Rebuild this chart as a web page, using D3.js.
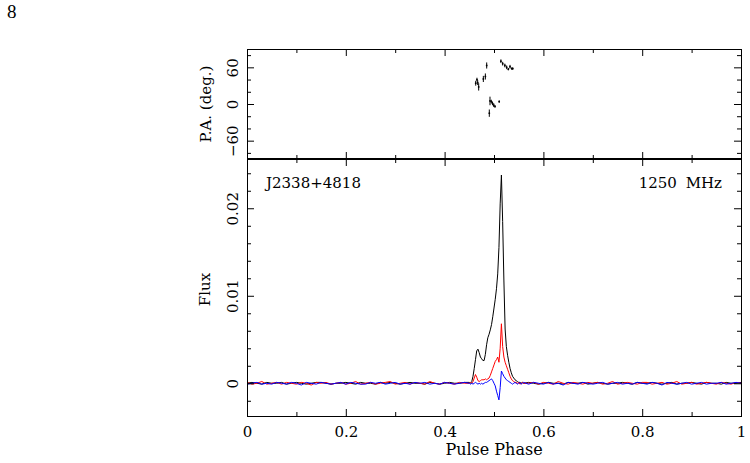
<!DOCTYPE html>
<html>
<head>
<meta charset="utf-8">
<script src="https://cdnjs.cloudflare.com/ajax/libs/d3/7.8.5/d3.min.js"></script>
<style>
body { margin: 0; background: #fff; }
svg { display: block; }
text { font-family: "DejaVu Serif", serif; fill: #000; }
</style>
</head>
<body>
<svg></svg>
<script>
// pulse phase of each profile bin (coarse off-pulse, finer across the pulse)
var phase = [
    0, 0.01, 0.02, 0.03, 0.04, 0.05, 0.06, 0.07, 0.08, 0.09,
    0.10, 0.11, 0.12, 0.13, 0.14, 0.15, 0.16, 0.17, 0.18, 0.19,
    0.20, 0.21, 0.22, 0.23, 0.24, 0.25, 0.26, 0.27, 0.28, 0.29,
    0.30, 0.31, 0.32, 0.33, 0.34, 0.35, 0.36, 0.37, 0.38, 0.39,
    0.40, 0.41, 0.42, 0.43, 0.44,
    0.45, 0.4525, 0.455, 0.4575, 0.46, 0.4625, 0.465, 0.4675, 0.47, 0.4725,
    0.475, 0.4775, 0.48, 0.4825, 0.485, 0.4875, 0.49, 0.4925, 0.495, 0.4975,
    0.5, 0.5025, 0.505, 0.5075, 0.51, 0.5125, 0.515, 0.5175, 0.52, 0.5225,
    0.525, 0.5275, 0.53, 0.5325, 0.535, 0.5375, 0.54, 0.5425, 0.545, 0.5475,
    0.55, 0.5525, 0.555, 0.5575, 0.56,
    0.57, 0.58, 0.59,
    0.60, 0.61, 0.62, 0.63, 0.64, 0.65, 0.66, 0.67, 0.68, 0.69,
    0.70, 0.71, 0.72, 0.73, 0.74, 0.75, 0.76, 0.77, 0.78, 0.79,
    0.80, 0.81, 0.82, 0.83, 0.84, 0.85, 0.86, 0.87, 0.88, 0.89,
    0.90, 0.91, 0.92, 0.93, 0.94, 0.95, 0.96, 0.97, 0.98, 0.99,
    1.00
];

// flux values in units of 1e-4
var fluxUnit = 1e-4;

// total intensity (black)
var fluxI = [
    0, 1, 0, -1, 1, 0, 0, 1, -1, 0,
    1, 0, -1, 0, 1, 1, 0, -1, 0, 0,
    1, 0, -1, 1, 0, 0, -1, 1, 0, 1,
    0, -1, 0, 1, 0, 0, -1, 1, 0, -1,
    0, 1, 0, 0, 1,
    1, 0, 2, 8, 17, 27, 37, 39, 35, 30,
    28, 26, 26, 33, 44, 52, 56, 61, 67, 76,
    86, 96, 108, 125, 155, 205, 238, 185, 118, 62,
    42, 32, 24, 17, 12, 8, 6, 4, 3, 2,
    1, 1, 0, 1, 0,
    1, 0, -1,
    0, 1, 0, 0, -1, 1, 0, 0, 1, -1,
    0, 1, 0, -1, 0, 0, 1, 0, -1, 1,
    0, 0, 1, 0, -1, 0, 1, -1, 0, 0,
    1, 0, -1, 1, 0, 0, -1, 1, 0, 0,
    1
];

// linear polarization (red)
var fluxL = [
    1, -1, 0, 2, -1, 0, 1, -1, 1, 0,
    -1, 1, 0, -2, 1, 0, 1, -1, 0, 1,
    -1, 0, 2, -1, 0, 1, -1, 0, 1, 2,
    -1, 0, 1, -1, 1, 0, -1, 2, 0, -1,
    1, 0, -1, 1, 0,
    0, 1, 0, 2, 6, 10, 7, 3, 2, 3,
    4, 4, 4, 5, 4, 5, 6, 9, 13, 17,
    21, 25, 27, 30, 24, 40, 68, 42, 30, 24,
    20, 16, 12, 8, 5, 3, 2, 1, 1, 0,
    1, -1, 0, 1, 0,
    0, 1, -1,
    1, 0, -1, 2, 0, -1, 1, 0, -1, 1,
    0, 1, -1, 0, 2, -1, 0, 1, 0, -1,
    1, 1, -1, 0, 1, -1, 0, 2, -1, 0,
    1, -1, 0, 1, 0, -1, 1, 0, -1, 1,
    0
];

// circular polarization (blue)
var fluxV = [
    -1, 0, 1, -1, 0, -1, 1, 0, -1, 1,
    0, -2, 1, 0, -1, 1, 0, -1, 0, 1,
    -1, 1, 0, -1, -1, 1, 0, 1, -1, 0,
    1, -1, 0, -1, 1, 0, 1, -1, 0, -1,
    1, 0, -1, 0, 1,
    0, -1, 0, -1, 0, 1, 0, -1, 0, -1,
    0, -1, 0, 1, 1, 2, 3, 4, 5, 3,
    0, -3, -9, -14, -19, -5, 14, 11, 8, 6,
    4, 3, 2, 1, 0, -1, 0, 1, 0, -1,
    0, 1, -1, 0, 1,
    -1, 1, 0,
    -1, 1, -1, 0, -2, 1, 0, -1, 1, 0,
    -1, 0, 1, -1, 0, 1, -1, 0, -1, 1,
    0, -1, 1, 0, -2, 1, 0, -1, 0, 1,
    -1, 0, 1, -1, 0, 0, 1, -1, 0, 1,
    0
];

// position angle points with errors
var paPhase = [0.463, 0.4655, 0.467, 0.469, 0.4784, 0.4825, 0.4852, 0.4905,
    0.4919, 0.4945, 0.497, 0.4995, 0.502, 0.5105,
    0.514, 0.5176, 0.522, 0.5257, 0.529, 0.5324, 0.536, 0.538];
var paDeg = [34, 40, 35, 28, 41, 45, 63, -15,
    5, 4, 1, -2, -4, 4,
    70, 66, 63, 60, 57, 61, 58, 58];
var paErr = [4, 3, 4, 6, 5, 5, 5, 6,
    7, 3, 3, 3, 2, 2,
    3, 3, 3, 3, 2, 3, 2, 2];

var phaseMajor = [0, 0.2, 0.4, 0.6, 0.8, 1];
var phaseLabels = ["0", "0.2", "0.4", "0.6", "0.8", "1"];
var phaseMinor = [0.1, 0.3, 0.5, 0.7, 0.9];
var fluxMajor = [0, 0.01, 0.02];
var fluxLabels = ["0", "0.01", "0.02"];
var fluxMinor = [-0.002, 0.002, 0.004, 0.006, 0.008, 0.012, 0.014, 0.016, 0.018, 0.022, 0.024];
var paMajor = [-60, 0, 60];
var paLabels = ["\u221260", "0", "60"];
var paMinor = [-80, -40, -20, 20, 40, 80];

var pulsarName = "J2338+4818";
var freqLabel = "1250 MHz";
var pageNumber = "8";

function frame(g, x, y, w, h, yMajor, yMinor, yLabels, xLabels) {
    g.append("g")
        .call(d3.axisLeft(y).tickValues(yMajor).tickSize(-7).tickPadding(9)
            .tickFormat(function(d, i) { return yLabels[i]; }))
        .call(function(a) { a.select(".domain").remove(); })
        .selectAll("text")
        .attr("transform", "rotate(-90)")
        .attr("x", 0).attr("y", -9).attr("dy", 0)
        .attr("text-anchor", "middle")
        .style("font-size", "15px")
        .style("font-family", "DejaVu Serif");
    g.append("g")
        .call(d3.axisLeft(y).tickValues(yMinor).tickSize(-4).tickFormat(""))
        .select(".domain").remove();
    g.append("g")
        .attr("transform", "translate(" + w + ",0)")
        .call(d3.axisRight(y).tickValues(yMajor).tickSize(-7).tickFormat(""))
        .select(".domain").remove();
    g.append("g")
        .attr("transform", "translate(" + w + ",0)")
        .call(d3.axisRight(y).tickValues(yMinor).tickSize(-4).tickFormat(""))
        .select(".domain").remove();

    g.append("g")
        .call(d3.axisTop(x).tickValues(phaseMajor).tickSize(-7).tickFormat(""))
        .select(".domain").remove();
    g.append("g")
        .call(d3.axisTop(x).tickValues(phaseMinor).tickSize(-4).tickFormat(""))
        .select(".domain").remove();

    var bottom = d3.axisBottom(x).tickValues(phaseMajor).tickSize(-7).tickPadding(10);
    if (xLabels) bottom.tickFormat(function(d, i) { return xLabels[i]; });
    else bottom.tickFormat("");
    g.append("g")
        .attr("transform", "translate(0," + h + ")")
        .call(bottom)
        .call(function(a) { a.select(".domain").remove(); })
        .selectAll("text")
        .style("font-size", "15px")
        .style("font-family", "DejaVu Serif");
    g.append("g")
        .attr("transform", "translate(0," + h + ")")
        .call(d3.axisBottom(x).tickValues(phaseMinor).tickSize(-4).tickFormat(""))
        .select(".domain").remove();

    g.selectAll(".tick line").attr("stroke", "#000");

    g.append("rect")
        .attr("x", 0.5).attr("y", 0.5)
        .attr("width", w).attr("height", h)
        .attr("fill", "none")
        .attr("stroke", "#000")
        .attr("stroke-width", 1);
}

function drawChart() {
    var svgWidth = 750, svgHeight = 463;
    var left = 247, plotW = 494;
    var topY = 49, topH = 110;
    var botY = 159, botH = 257;

    var svg = d3.select("svg")
        .attr("width", svgWidth)
        .attr("height", svgHeight);

    svg.append("text")
        .attr("x", 7).attr("y", 18)
        .style("font-family", "Liberation Serif")
        .style("font-size", "19px")
        .text(pageNumber);

    var x = d3.scaleLinear().domain([0, 1]).range([0, plotW]);
    var yPa = d3.scaleLinear().domain([-90, 90]).range([topH, 0]);
    var yFlux = d3.scaleLinear().domain([-0.00374, 0.02563]).range([botH, 0]);

    // position angle panel
    var gTop = svg.append("g")
        .attr("transform", "translate(" + left + "," + topY + ")");
    frame(gTop, x, yPa, plotW, topH, paMajor, paMinor, paLabels, null);

    var pa = paPhase.map(function(p, i) { return { p: p, deg: paDeg[i], err: paErr[i] }; });
    gTop.append("g").selectAll("line")
        .data(pa).enter().append("line")
        .attr("x1", function(d) { return x(d.p); })
        .attr("x2", function(d) { return x(d.p); })
        .attr("y1", function(d) { return yPa(d.deg - d.err); })
        .attr("y2", function(d) { return yPa(d.deg + d.err); })
        .attr("stroke", "#000")
        .attr("stroke-width", 1);
    gTop.append("g").selectAll("circle")
        .data(pa).enter().append("circle")
        .attr("cx", function(d) { return x(d.p); })
        .attr("cy", function(d) { return yPa(d.deg); })
        .attr("r", 0.9)
        .attr("fill", "#000");

    svg.append("text")
        .attr("transform", "translate(211," + (topY + topH / 2) + ") rotate(-90)")
        .attr("text-anchor", "middle")
        .style("font-size", "15px")
        .text("P.A. (deg.)");

    // flux panel
    var gBot = svg.append("g")
        .attr("transform", "translate(" + left + "," + botY + ")");

    svg.append("defs").append("clipPath").attr("id", "clip")
        .append("rect").attr("width", plotW).attr("height", botH);

    var line = d3.line()
        .x(function(d) { return x(d[0]); })
        .y(function(d) { return yFlux(d[1] * fluxUnit); });

    var series = [
        { values: fluxI, color: "#000000" },
        { values: fluxL, color: "#ff0000" },
        { values: fluxV, color: "#0000ff" }
    ];
    gBot.append("g").attr("clip-path", "url(#clip)")
        .selectAll("path")
        .data(series).enter().append("path")
        .attr("fill", "none")
        .attr("stroke", function(d) { return d.color; })
        .attr("stroke-width", 1)
        .attr("stroke-linejoin", "round")
        .attr("d", function(d) { return line(d3.zip(phase, d.values)); });

    frame(gBot, x, yFlux, plotW, botH, fluxMajor, fluxMinor, fluxLabels, phaseLabels);

    // the panel divider is drawn a bit heavier
    gBot.append("line")
        .attr("x1", 0).attr("x2", plotW + 1)
        .attr("y1", -0.5).attr("y2", -0.5)
        .attr("stroke", "#000");

    gBot.append("text")
        .attr("x", 19).attr("y", 29)
        .style("font-size", "15px")
        .text(pulsarName);
    gBot.append("text")
        .attr("x", 475).attr("y", 29)
        .attr("text-anchor", "end")
        .style("font-size", "15px")
        .style("word-spacing", "4px")
        .text(freqLabel);

    svg.append("text")
        .attr("transform", "translate(210," + (botY + botH / 2 + 2) + ") rotate(-90)")
        .attr("text-anchor", "middle")
        .style("font-size", "15px")
        .text("Flux");

    svg.append("text")
        .attr("x", left + plotW / 2).attr("y", 455)
        .attr("text-anchor", "middle")
        .style("font-size", "16px")
        .text("Pulse Phase");
}

drawChart();
</script>
</body>
</html>
